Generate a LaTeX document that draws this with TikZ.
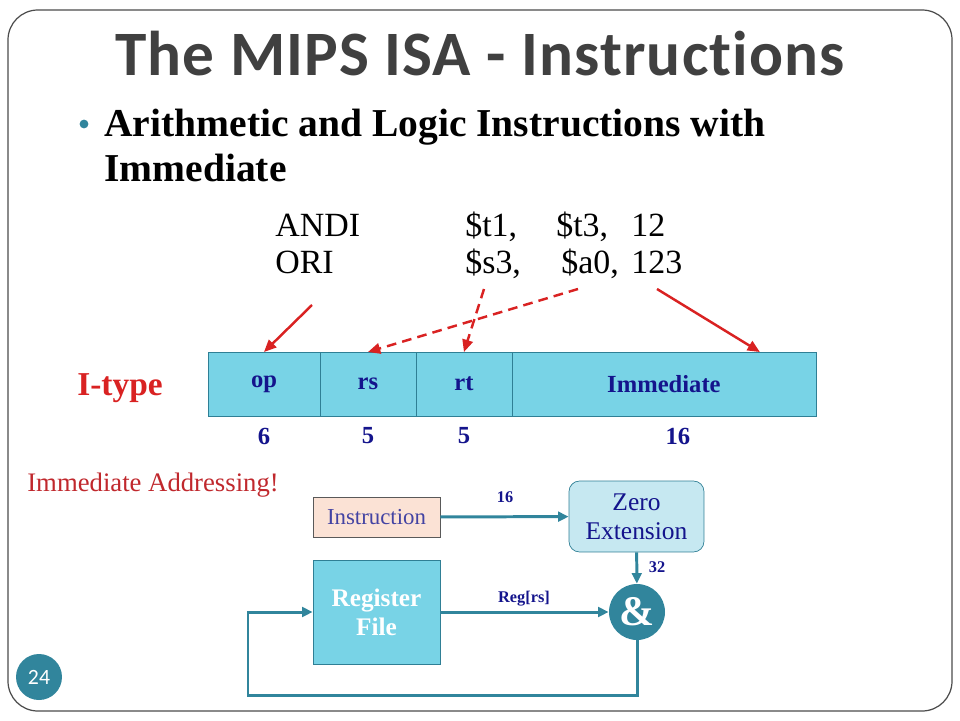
\documentclass[tikz,border=0pt]{standalone}
\usepackage{fontspec}
\setsansfont{Carlito}[Ligatures={NoCommon}]
\newfontfamily\pal{Liberation Serif}
\usepackage{tikz}
\usetikzlibrary{positioning}
\usetikzlibrary{arrows.meta}

\definecolor{slideteal}{HTML}{31859C}
\definecolor{cyanfill}{HTML}{78D3E6}
\definecolor{boxline}{HTML}{2F7F95}
\definecolor{navy}{HTML}{14148C}
\definecolor{redc}{HTML}{D92222}
\definecolor{darkred}{HTML}{C0282D}
\definecolor{peach}{HTML}{FBE2D5}
\definecolor{paleblue}{HTML}{C6E8F1}
\definecolor{titlegray}{HTML}{404040}

\begin{document}
\begin{tikzpicture}[x=0.02cm, y=-0.02cm,
    field/.style={draw=boxline, fill=cyanfill, outer sep=0pt, inner sep=0pt, minimum height=1.28cm, text=navy, font=\pal\bfseries\fontsize{14}{16}\selectfont},
    bits/.style={text=navy, font=\pal\bfseries\fontsize{14}{16}\selectfont},
    code/.style={anchor=base west, inner xsep=0pt, font=\pal\fontsize{19.3}{23}\selectfont},
    small/.style={text=navy, font=\pal\bfseries\fontsize{9.3}{11}\selectfont},
    redarrow/.style={draw=redc, line width=1.4pt, -{Triangle[length=7pt,width=6pt]}},
    flow/.style={draw=slideteal, line width=1.7pt, -{Triangle[length=6pt,width=5.5pt]}}]

    \useasboundingbox (0,0) rectangle (960,720);
    \draw[gray!60!black, line width=0.7pt, rounded corners=17pt] (8,10) rectangle (952,711);

    \node[anchor=base, text=titlegray, font=\sffamily\bfseries\fontsize{36}{40}\selectfont\addfontfeatures{LetterSpace=1.8}] (title) at (480,75) {The MIPS ISA - Instructions};
    \node[circle, fill=slideteal, inner sep=0pt, minimum size=5pt] (dot) at (84,124) {};
    \node[anchor=base west, inner xsep=0pt, align=left, font=\pal\bfseries\fontsize{22.5}{25.6}\selectfont] (bullet) at (104,181) {Arithmetic and Logic Instructions with\\Immediate};

    \node[code] (andi) at (275,236) {ANDI};
    \node[code] (t1) at (465,236) {\$t1,};
    \node[code] (t3) at (556,236) {\$t3,};
    \node[code] (n12) at (631,236) {12};
    \node[code] (ori) at (275,273) {ORI};
    \node[code] (s3) at (465,273) {\$s3,};
    \node[code] (a0) at (561,273) {\$a0,};
    \node[code] (n123) at (631,273) {123};

    \node[field, minimum width=2.24cm, anchor=north west] (op) at (208,352) {op};
    \node[field, minimum width=1.92cm, right=0pt of op] (rs) {rs};
    \node[field, minimum width=1.92cm, right=0pt of rs] (rt) {rt};
    \node[field, minimum width=6.08cm, right=0pt of rt] (imm) {Immediate};
    \node[anchor=base west, inner xsep=0pt, text=redc, font=\pal\bfseries\fontsize{19}{22}\selectfont] (itype) at (77,395) {I-type};

    \node[bits] (nop) at ([yshift=-0.4cm]op.south) {6};
    \node[bits] (nrs) at ([yshift=-0.4cm]rs.south) {5};
    \node[bits] (nrt) at ([yshift=-0.4cm]rt.south) {5};
    \node[bits] (nimm) at ([yshift=-0.4cm,xshift=0.28cm]imm.south) {16};

    \coordinate (opsrc) at (312,305);
    \coordinate (rssrc) at (578,289);
    \coordinate (rtsrc) at (484,289);
    \coordinate (immsrc) at (657,289);
    \draw[redarrow] (opsrc) -- (op.north);
    \draw[redarrow, dash pattern=on 5.5pt off 3.5pt] (rssrc) -- (rs.north);
    \draw[redarrow, dash pattern=on 5.5pt off 3.5pt] (rtsrc) -- (rt.north);
    \draw[redarrow] (immsrc) -- ([xshift=-1.12cm]imm.north east);

    \node[anchor=base west, inner xsep=0pt, text=darkred, font=\pal\fontsize{15.2}{18}\selectfont] (addr) at (27,491) {Immediate Addressing!};

    \node[draw=gray!70!black, fill=peach, minimum width=2.54cm, minimum height=0.8cm, text=navy!80, font=\pal\fontsize{13}{15}\selectfont] (instr) at (376.5,517) {Instruction};
    \node[draw=boxline, fill=paleblue, rounded corners=6pt, minimum width=2.7cm, minimum height=1.42cm, align=center, text=navy, font=\pal\fontsize{14.5}{16.5}\selectfont] (zext) at (636.5,516.5) {Zero\\Extension};
    \node[draw=boxline, fill=cyanfill, minimum width=2.54cm, minimum height=2.08cm, align=center, text=white, font=\pal\bfseries\fontsize{14.4}{16.5}\selectfont] (reg) at (376.5,612) {Register\\File};
    \node[circle, fill=slideteal, minimum size=1.12cm, inner sep=0pt, text=white, font=\pal\bfseries\fontsize{24}{26}\selectfont] (amp) at (637,612) {\&};

    \draw[flow] (instr) -- (zext);
    \draw[flow] (zext) -- (amp);
    \draw[flow] (reg) -- (amp);
    \coordinate (loop) at (248,695);
    \draw[flow] (amp.south) -- (amp.south |- loop) -- (loop) |- (reg.west);

    \node[small] (l16) at (505,497) {16};
    \node[small] (l32) at (657,567) {32};
    \node[small] (lreg) at (524,599) {Reg[rs]};

    \node[circle, fill=slideteal, minimum size=0.92cm, inner sep=0pt, text=white, font=\sffamily\fontsize{12.4}{14}\selectfont] (page) at (39,677) {24};
\end{tikzpicture}
\end{document}
